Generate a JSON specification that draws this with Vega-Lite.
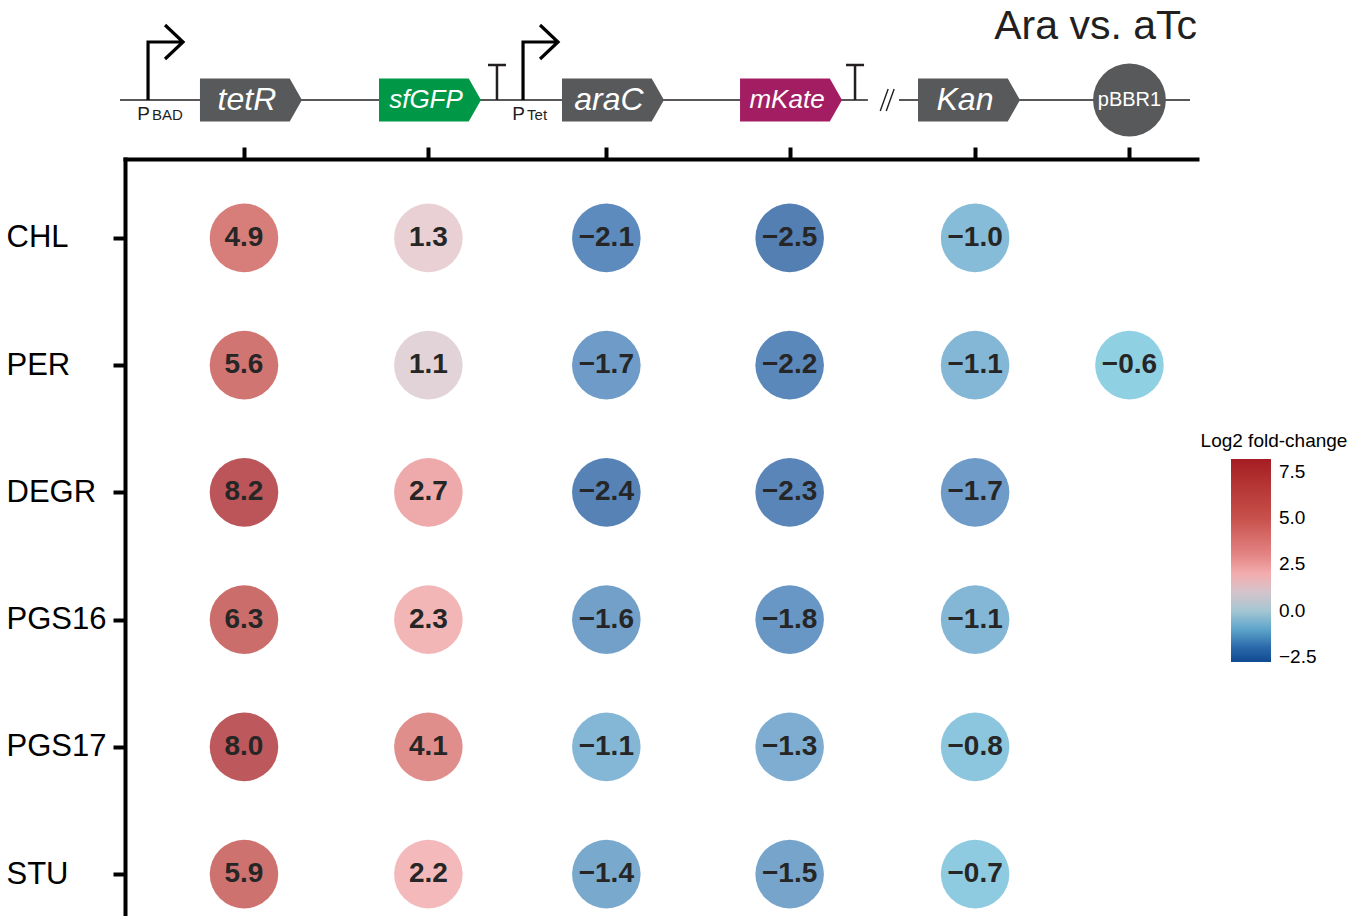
{
  "$schema": "https://vega.github.io/schema/vega-lite/v6.json",
  "background": "white",
  "padding": {"left": 6, "top": 5, "right": 10, "bottom": 0},
  "bounds": "flush",
  "spacing": 19,
  "resolve": {"scale": {"x": "shared"}},
  "config": {
    "view": {"stroke": null},
    "font": "Liberation Sans"
  },
  "vconcat": [
    {
      "width": 1072,
      "height": 100,
      "title": {
        "text": "Ara vs. aTc",
        "anchor": "end",
        "frame": "group",
        "fontSize": 41,
        "fontWeight": "normal",
        "font": "Liberation Sans",
        "color": "#231f20",
        "offset": -29
      },
      "layer": [
        {
          "data": {"values": [{"start": -0.47, "end": 69.3}, {"start": 72.2, "end": 99.35}]},
          "mark": {"type": "rule", "strokeWidth": 1.6, "color": "#231f20"},
          "encoding": {
            "x": {"field": "start", "type": "quantitative", "scale": {"domain": [0, 100]}, "axis": null},
            "x2": {"field": "end"},
            "y": {"datum": 0, "type": "quantitative", "scale": {"domain": [-4, 6]}, "axis": null}
          }
        },
        {
          "data": {"values": [{"pos": 71.1}]},
          "mark": {"type": "point", "filled": false, "shape": "M-0.58,0.92 L0.08,-0.92 M-0.08,0.92 L0.58,-0.92", "size": 576, "strokeWidth": 1.4, "color": "#231f20", "opacity": 1},
          "encoding": {
            "x": {"field": "pos", "type": "quantitative", "scale": {"domain": [0, 100]}, "axis": null},
            "y": {"datum": 0, "type": "quantitative", "scale": {"domain": [-4, 6]}, "axis": null}
          }
        },
        {
          "data": {"values": [{"promoter": "BAD", "pos": 2.15}, {"promoter": "Tet", "pos": 37.13}]},
          "layer": [
            {
              "mark": {"type": "point", "filled": false, "shape": "M0,0 L0,-0.967 L0.567,-0.967 M0.283,-1.25 L0.583,-0.967 L0.283,-0.683", "size": 14400, "strokeWidth": 3.2, "color": "black", "opacity": 1, "strokeCap": "butt"},
              "encoding": {
                "x": {"field": "pos", "type": "quantitative", "scale": {"domain": [0, 100]}, "axis": null},
                "y": {"datum": 0, "type": "quantitative", "scale": {"domain": [-4, 6]}, "axis": null}
              }
            },
            {
              "mark": {"type": "text", "text": "P", "align": "right", "dx": 2, "baseline": "alphabetic", "fontSize": 19, "color": "#231f20", "font": "Liberation Sans"},
              "encoding": {
                "x": {"field": "pos", "type": "quantitative", "scale": {"domain": [0, 100]}, "axis": null},
                "y": {"datum": -1.95, "type": "quantitative", "scale": {"domain": [-4, 6]}, "axis": null}
              }
            },
            {
              "mark": {"type": "text", "align": "left", "dx": 4, "baseline": "alphabetic", "fontSize": 15, "color": "#231f20", "font": "Liberation Sans"},
              "encoding": {
                "text": {"field": "promoter"},
                "x": {"field": "pos", "type": "quantitative", "scale": {"domain": [0, 100]}, "axis": null},
                "y": {"datum": -1.95, "type": "quantitative", "scale": {"domain": [-4, 6]}, "axis": null}
              }
            }
          ]
        },
        {
          "data": {"values": [{"pos": 34.7}, {"pos": 68.1}]},
          "mark": {"type": "point", "filled": false, "shape": "M0,0 L0,-0.583 M-0.15,-0.583 L0.15,-0.583", "size": 14400, "strokeWidth": 2.5, "color": "#231f20", "opacity": 1},
          "encoding": {
            "x": {"field": "pos", "type": "quantitative", "scale": {"domain": [0, 100]}, "axis": null},
            "y": {"datum": 0, "type": "quantitative", "scale": {"domain": [-4, 6]}, "axis": null}
          }
        },
        {
          "data": {"values": [
            {"gene": "tetR", "mid": 11.75, "role": "regulator"},
            {"gene": "sfGFP", "mid": 28.45, "role": "reporter"},
            {"gene": "araC", "mid": 45.52, "role": "regulator"},
            {"gene": "mKate", "mid": 62.13, "role": "reporter"},
            {"gene": "Kan", "mid": 78.73, "role": "marker"}
          ]},
          "layer": [
            {
              "mark": {"type": "point", "filled": true, "shape": "M-1,-0.42 L0.76,-0.42 L1,0 L0.76,0.42 L-1,0.42 Z", "size": 10404, "opacity": 1, "strokeWidth": 0},
              "encoding": {
                "x": {"field": "mid", "type": "quantitative", "scale": {"domain": [0, 100]}, "axis": null},
                "y": {"datum": 0, "type": "quantitative", "scale": {"domain": [-4, 6]}, "axis": null},
                "fill": {
                  "field": "gene",
                  "type": "nominal",
                  "scale": {"domain": ["tetR", "sfGFP", "araC", "mKate", "Kan"], "range": ["#58595b", "#009846", "#58595b", "#a31d63", "#58595b"]},
                  "legend": null
                }
              }
            },
            {
              "mark": {"type": "text", "fontStyle": "italic", "color": "white", "dx": -4, "baseline": "middle", "align": "center", "font": "Liberation Sans"},
              "encoding": {
                "text": {"field": "gene"},
                "x": {"field": "mid", "type": "quantitative", "scale": {"domain": [0, 100]}, "axis": null},
                "y": {"datum": 0, "type": "quantitative", "scale": {"domain": [-4, 6]}, "axis": null},
                "size": {"condition": {"test": "datum.role === 'reporter'", "value": 26}, "value": 32}
              }
            }
          ]
        },
        {
          "data": {"values": [{"origin": "pBBR1", "pos": 93.7}]},
          "layer": [
            {
              "mark": {"type": "point", "shape": "circle", "filled": true, "size": 5300, "color": "#58595b", "opacity": 1, "strokeWidth": 0},
              "encoding": {
                "x": {"field": "pos", "type": "quantitative", "scale": {"domain": [0, 100]}, "axis": null},
                "y": {"datum": 0, "type": "quantitative", "scale": {"domain": [-4, 6]}, "axis": null}
              }
            },
            {
              "mark": {"type": "text", "color": "white", "fontSize": 20, "baseline": "middle", "align": "center", "font": "Liberation Sans"},
              "encoding": {
                "text": {"field": "origin"},
                "x": {"field": "pos", "type": "quantitative", "scale": {"domain": [0, 100]}, "axis": null},
                "y": {"datum": 0, "type": "quantitative", "scale": {"domain": [-4, 6]}, "axis": null}
              }
            }
          ]
        }
      ]
    },
    {
      "width": 1072,
      "height": 794,
      "data": {"values": [
        {"strain": "CHL", "gene": "tetR", "pos": 11.1, "lfc": 4.9},
        {"strain": "CHL", "gene": "sfGFP", "pos": 28.3, "lfc": 1.3},
        {"strain": "CHL", "gene": "araC", "pos": 44.9, "lfc": -2.1},
        {"strain": "CHL", "gene": "mKate", "pos": 62.0, "lfc": -2.5},
        {"strain": "CHL", "gene": "Kan", "pos": 79.3, "lfc": -1.0},
        {"strain": "PER", "gene": "tetR", "pos": 11.1, "lfc": 5.6},
        {"strain": "PER", "gene": "sfGFP", "pos": 28.3, "lfc": 1.1},
        {"strain": "PER", "gene": "araC", "pos": 44.9, "lfc": -1.7},
        {"strain": "PER", "gene": "mKate", "pos": 62.0, "lfc": -2.2},
        {"strain": "PER", "gene": "Kan", "pos": 79.3, "lfc": -1.1},
        {"strain": "PER", "gene": "pBBR1", "pos": 93.7, "lfc": -0.6},
        {"strain": "DEGR", "gene": "tetR", "pos": 11.1, "lfc": 8.2},
        {"strain": "DEGR", "gene": "sfGFP", "pos": 28.3, "lfc": 2.7},
        {"strain": "DEGR", "gene": "araC", "pos": 44.9, "lfc": -2.4},
        {"strain": "DEGR", "gene": "mKate", "pos": 62.0, "lfc": -2.3},
        {"strain": "DEGR", "gene": "Kan", "pos": 79.3, "lfc": -1.7},
        {"strain": "PGS16", "gene": "tetR", "pos": 11.1, "lfc": 6.3},
        {"strain": "PGS16", "gene": "sfGFP", "pos": 28.3, "lfc": 2.3},
        {"strain": "PGS16", "gene": "araC", "pos": 44.9, "lfc": -1.6},
        {"strain": "PGS16", "gene": "mKate", "pos": 62.0, "lfc": -1.8},
        {"strain": "PGS16", "gene": "Kan", "pos": 79.3, "lfc": -1.1},
        {"strain": "PGS17", "gene": "tetR", "pos": 11.1, "lfc": 8.0},
        {"strain": "PGS17", "gene": "sfGFP", "pos": 28.3, "lfc": 4.1},
        {"strain": "PGS17", "gene": "araC", "pos": 44.9, "lfc": -1.1},
        {"strain": "PGS17", "gene": "mKate", "pos": 62.0, "lfc": -1.3},
        {"strain": "PGS17", "gene": "Kan", "pos": 79.3, "lfc": -0.8},
        {"strain": "STU", "gene": "tetR", "pos": 11.1, "lfc": 5.9},
        {"strain": "STU", "gene": "sfGFP", "pos": 28.3, "lfc": 2.2},
        {"strain": "STU", "gene": "araC", "pos": 44.9, "lfc": -1.4},
        {"strain": "STU", "gene": "mKate", "pos": 62.0, "lfc": -1.5},
        {"strain": "STU", "gene": "Kan", "pos": 79.3, "lfc": -0.7}
      ]},
      "encoding": {
        "x": {
          "field": "pos",
          "type": "quantitative",
          "scale": {"domain": [0, 100]},
          "axis": {
            "orient": "top",
            "values": [11.1, 28.3, 44.9, 62.0, 79.3, 93.7],
            "labels": false,
            "title": null,
            "grid": false,
            "domainWidth": 4,
            "domainColor": "black",
            "domainCap": "square",
            "tickWidth": 4,
            "tickColor": "black",
            "tickSize": 12
          }
        },
        "y": {
          "field": "strain",
          "type": "ordinal",
          "sort": ["CHL", "PER", "DEGR", "PGS16", "PGS17", "STU"],
          "scale": {"type": "point", "padding": 0.62},
          "axis": {
            "title": null,
            "grid": false,
            "labelFont": "Liberation Sans",
            "labelFontSize": 31,
            "labelColor": "black",
            "labelAlign": "left",
            "labelPadding": 107,
            "tickSize": 12,
            "tickWidth": 4,
            "tickColor": "black",
            "domainWidth": 4,
            "domainColor": "black",
            "domainCap": "square"
          }
        }
      },
      "layer": [
        {
          "mark": {"type": "circle", "size": 4700, "opacity": 1, "fillOpacity": 0.75},
          "encoding": {
            "color": {
              "field": "lfc",
              "type": "quantitative",
              "scale": {
                "domain": [-2.77, -2.0, -1.2, -0.6, 0.0, 0.6, 1.1, 1.8, 2.5, 5.0, 8.2],
                "range": ["#104a92", "#2a68aa", "#5898c4", "#6bc0da", "#a5c6d2", "#c6c6cd", "#d8c4cb", "#f6b7b9", "#ea9294", "#c8504c", "#a51c22"],
                "interpolate": "lab"
              },
              "legend": {
                "title": "Log2 fold-change",
                "orient": "none",
                "legendX": 1076,
                "legendY": 392,
                "direction": "vertical",
                "gradientLength": 203,
                "gradientThickness": 40,
                "gradientStrokeWidth": 0,
                "values": [-2.5, 0, 2.5, 5, 7.5],
                "format": ".1f",
                "labelFont": "Liberation Sans",
                "labelFontSize": 19,
                "labelColor": "black",
                "labelOffset": 8,
                "titleFont": "Liberation Sans",
                "titleFontSize": 19,
                "titleFontWeight": "normal",
                "titleColor": "black",
                "titlePadding": 8,
                "titleAnchor": "middle",
                "encode": {"title": {"update": {"dx": {"value": -5}}}}
              }
            }
          }
        },
        {
          "mark": {"type": "text", "font": "Liberation Sans", "fontWeight": "bold", "fontSize": 28, "color": "#262626", "baseline": "middle", "align": "center"},
          "encoding": {
            "text": {"field": "lfc", "type": "quantitative", "format": ".1f"}
          }
        }
      ]
    }
  ]
}
